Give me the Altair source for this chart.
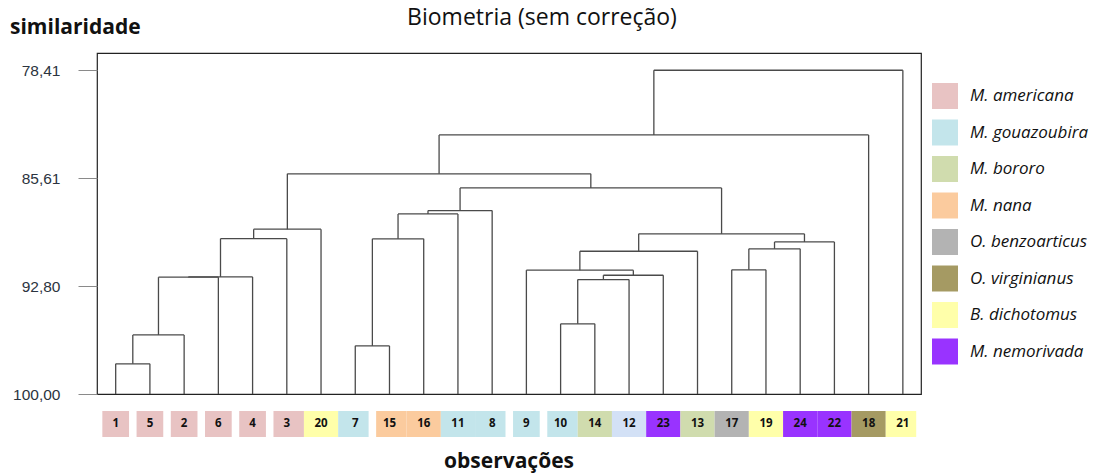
import altair as alt
import pandas as pd

# ---------------- data ----------------
leaf_order = ["1", "5", "2", "6", "4", "3", "20", "7", "15", "16", "11", "8",
              "9", "10", "14", "12", "23", "13", "17", "19", "24", "22", "18", "21"]
leaf_species = ["M. americana", "M. americana", "M. americana", "M. americana",
                "M. americana", "M. americana", "B. dichotomus", "M. gouazoubira",
                "M. nana", "M. nana", "M. gouazoubira", "M. gouazoubira",
                "M. gouazoubira", "M. gouazoubira", "M. bororo", "indeterminada",
                "M. nemorivada", "M. bororo", "O. benzoarticus", "B. dichotomus",
                "M. nemorivada", "M. nemorivada", "O. virginianus", "B. dichotomus"]

merge_left = ["1", "m0", "m1", "m2", "m3", "m4", "7", "m6", "m7", "m8", "10", "m10",
              "m11", "9", "m13", "17", "m15", "m16", "m14", "m9", "m5", "m20", "m21"]
merge_right = ["5", "2", "6", "4", "3", "20", "15", "16", "11", "8", "14", "12",
               "23", "m12", "13", "19", "24", "22", "m17", "m18", "m19", "18", "21"]
merge_similarity = [97.99, 96.06, 92.21, 92.19, 89.64, 89.01, 96.79, 89.65, 87.99,
                    87.77, 95.32, 92.37, 92.08, 91.74, 90.48, 91.72, 90.32, 89.86,
                    89.32, 86.26, 85.32, 82.72, 78.41]

species_names = ["M. americana", "M. gouazoubira", "M. bororo", "M. nana",
                 "O. benzoarticus", "O. virginianus", "B. dichotomus", "M. nemorivada"]
species_colors = ["#e8c3c3", "#c3e5eb", "#d0dcae", "#fbcb9e",
                  "#b3b3b3", "#a59a63", "#ffffaa", "#9933ff"]
extra_names = ["indeterminada"]
extra_colors = ["#d3e1f6"]

y_tick_values = [78.41, 85.607, 92.803, 100.0]
title_text = "Biometria (sem correção)"
x_title_text = "observações"
y_title_text = "similaridade"

# strip runs: adjacent label boxes sharing a run id are drawn touching
strip_runs = [0, 1, 2, 3, 4, 5, 5, 5, 6, 6, 6, 6, 7, 8, 8, 8, 8, 8, 8, 8, 8, 8, 8, 8]

# ---------------- build dendrogram segments ----------------
nodes = {lab: (i, 100.0) for i, lab in enumerate(leaf_order)}
segs = []
for k, (a, b, h) in enumerate(zip(merge_left, merge_right, merge_similarity)):
    xa, ha = nodes[a]
    xb, hb = nodes[b]
    segs.append({"x": xa, "x2": xa, "y": ha, "y2": h})
    segs.append({"x": xb, "x2": xb, "y": hb, "y2": h})
    segs.append({"x": xa, "x2": xb, "y": h, "y2": h})
    nodes[f"m{k}"] = ((xa + xb) / 2.0, h)
seg_df = pd.DataFrame(segs)

half_free, half_join = 0.39, 0.5
rows = []
n = len(leaf_order)
for i, (lab, sp) in enumerate(zip(leaf_order, leaf_species)):
    left = i - (half_join if i > 0 and strip_runs[i - 1] == strip_runs[i] else half_free)
    right = i + (half_join if i < n - 1 and strip_runs[i + 1] == strip_runs[i] else half_free)
    rows.append({"pos": i, "label": lab, "species": sp, "left": left, "right": right})
leaf_df = pd.DataFrame(rows)

xs = alt.Scale(domain=[-0.546, 23.53], nice=False, zero=False)
ys = alt.Scale(domain=[77.26, 100.0], nice=False, zero=False, reverse=True)

lines = alt.Chart(seg_df).mark_rule(color="#4a4a4a", strokeWidth=1.3).encode(
    x=alt.X("x:Q", scale=xs, axis=alt.Axis(
        values=list(range(n)), labels=False, tickSize=11, tickColor="#8a8a8a",
        domain=False, grid=False, title=None)),
    x2="x2:Q",
    y=alt.Y("y:Q", scale=ys, axis=alt.Axis(
        values=y_tick_values,
        labelExpr="replace(format(datum.value, '.2f'), '.', ',')",
        labelFont="Liberation Sans", labelFontSize=15.5, labelColor="#2c3440",
        labelPadding=18, tickSize=19, tickColor="#8a8a8a", domain=False, grid=False,
        title=None)),
    y2="y2:Q",
)

strip = alt.Chart(leaf_df).mark_rect().encode(
    x=alt.X("left:Q", scale=xs, axis=None),
    x2="right:Q",
    y=alt.value(358),
    y2=alt.value(384),
    color=alt.Color("species:N",
                    scale=alt.Scale(domain=species_names + extra_names,
                                    range=species_colors + extra_colors),
                    legend=alt.Legend(values=species_names, orient="none",
                                      legendX=835, legendY=30, title=None,
                                      symbolType="square", symbolSize=676,
                                      symbolStrokeWidth=0, labelFont="Open Sans",
                                      labelFontSize=17, labelFontStyle="italic",
                                      labelColor="#111111", labelOffset=12,
                                      rowPadding=10.5, padding=0)),
)

labels = alt.Chart(leaf_df).mark_text(
    font="Open Sans", fontWeight="bold", fontSize=11.5, color="#111111"
).encode(
    x=alt.X("pos:Q", scale=xs, axis=None),
    y=alt.value(371),
    text="label:N",
)

titles_df = pd.DataFrame({
    "text": [title_text, x_title_text, y_title_text],
    "kind": ["main", "x", "y"],
})

main_title = alt.Chart(titles_df).transform_filter("datum.kind == 'main'").mark_text(
    font="Open Sans", fontSize=23, color="#111111", baseline="middle", align="center"
).encode(text="text:N", x=alt.value(445), y=alt.value(-35))

x_title = alt.Chart(titles_df).transform_filter("datum.kind == 'x'").mark_text(
    font="Open Sans", fontSize=21, fontWeight="bold", color="#111111",
    baseline="middle", align="center"
).encode(text="text:N", x=alt.value(412), y=alt.value(409))

y_title = alt.Chart(titles_df).transform_filter("datum.kind == 'y'").mark_text(
    font="Open Sans", fontSize=21, fontWeight="bold", color="#111111",
    baseline="middle", align="left"
).encode(text="text:N", x=alt.value(-87), y=alt.value(-25))

chart = alt.layer(lines, strip, labels, main_title, x_title, y_title).properties(
    width=824,
    height=341,
    autosize=alt.AutoSizeParams(type="none"),
    padding={"left": 97, "top": 53, "right": 175, "bottom": 80},
).configure_view(stroke="#222222", strokeWidth=1.2)

chart.save("out.html", embed_options={"renderer": "svg", "actions": False})
